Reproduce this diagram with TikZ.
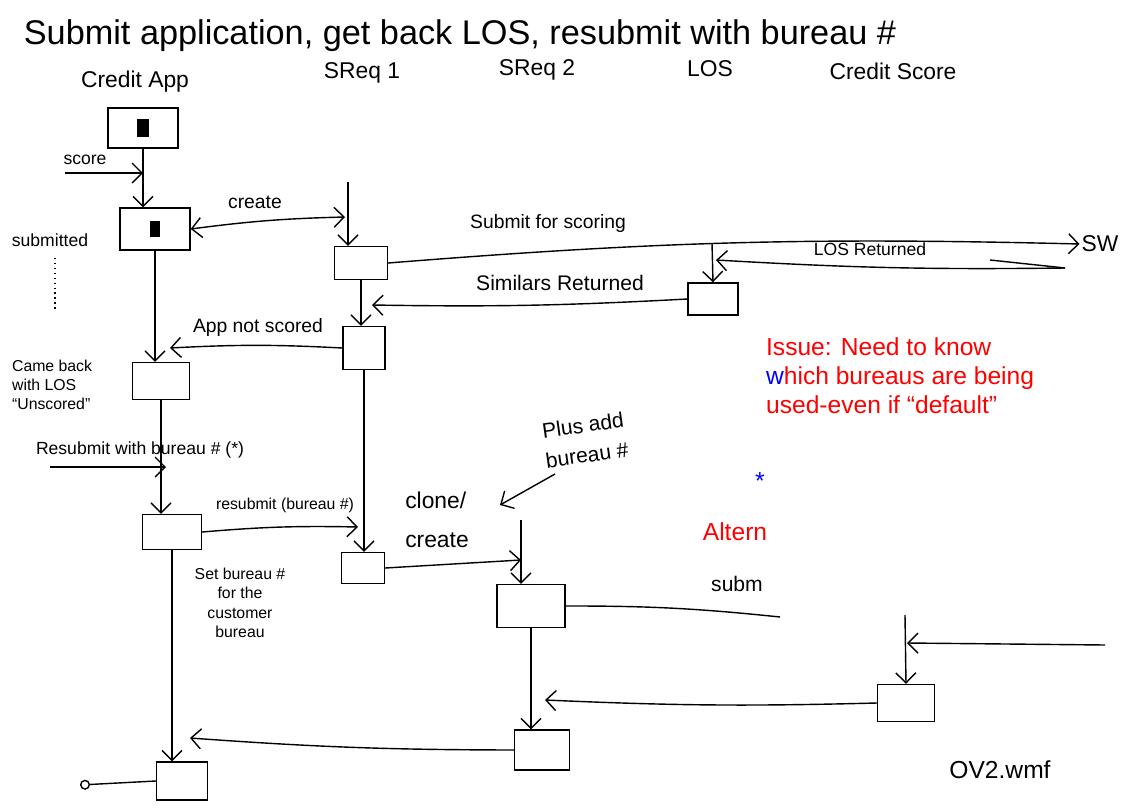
\documentclass[tikz,border=0pt]{standalone}
\usepackage{fontspec}
\setmainfont{Liberation Sans}
\usepackage{xcolor}
\usetikzlibrary{arrows.meta,positioning}

\begin{document}
\begin{tikzpicture}[
  x=0.02cm, y=-0.02cm,
  font=\fontsize{11}{13}\selectfont,
  box/.style={draw, thick, inner sep=0pt},
  arrow/.style={-{Straight Barb[length=2mm]}, thick},
  line/.style={thick},
  lbl/.style={inner sep=1pt, align=center}
]
\useasboundingbox (0,0) rectangle (1126,808);

% title and lifeline heads
\node[lbl, font=\fontsize{19.5}{22}\selectfont] (title) at (460,36) {Submit application, get back LOS, resubmit with bureau \#};
\node[lbl, font=\fontsize{13}{15}\selectfont] (hApp) at (135,82) {Credit App};
\node[lbl, font=\fontsize{13}{15}\selectfont] (hSreqA) at (362,73) {SReq 1};
\node[lbl, font=\fontsize{13}{15}\selectfont] (hSreqB) at (537,70) {SReq 2};
\node[lbl, font=\fontsize{13}{15}\selectfont] (hLos) at (710,69) {LOS};
\node[lbl, font=\fontsize{13}{15}\selectfont] (hScore) at (893,71) {Credit Score};

% boxes
\node[box, minimum width=1.4cm, minimum height=0.8cm] (appA) at (143,128) {};
\node[box, minimum width=1.4cm, minimum height=0.84cm] (appB) at (155,229) {};
\node[box, minimum width=1.14cm, minimum height=0.74cm] (appC) at (161,381) {};
\node[box, minimum width=1.18cm, minimum height=0.7cm] (appD) at (172,532) {};
\node[box, minimum width=1.02cm, minimum height=0.76cm] (appE) at (182,781) {};
\node[box, minimum width=1.06cm, minimum height=0.66cm] (sreqA) at (361,263) {};
\node[box, minimum width=0.84cm, minimum height=0.86cm] (sreqB) at (364,348) {};
\node[box, minimum width=0.86cm, minimum height=0.62cm] (sreqC) at (363,568) {};
\node[box, minimum width=1.36cm, minimum height=0.86cm] (sreqD) at (531,606) {};
\node[box, minimum width=1.1cm, minimum height=0.8cm] (sreqE) at (542,750) {};
\node[box, minimum width=1.0cm, minimum height=0.64cm] (losA) at (713,299) {};
\node[box, minimum width=1.14cm, minimum height=0.74cm] (losB) at (906,703) {};

% scribbles inside the first two boxes
\fill (appA.center) ++(-6,-9) rectangle ++(12,18);
\fill (appB.center) ++(-5,-8) rectangle ++(10,16);

% loose ends
\coordinate (scoreIn) at (65,173);
\coordinate (sreqTop) at (348,182);
\coordinate (createEnd) at (345,217);
\coordinate (losTop) at (712,243);
\coordinate (losRet) at (1065,268);
\coordinate (losRetEnd) at (716,260);
\coordinate (simEnd) at (372,305);
\coordinate (notScEnd) at (170,348);
\coordinate (resubIn) at (50,467);
\coordinate (resubEnd) at (166,467);
\coordinate (bureauEnd) at (358,527);
\coordinate (cloneEnd) at (521,560);
\coordinate (sreqBTop) at (521,520);
\coordinate (plusStart) at (555,474);
\coordinate (plusEnd) at (500,505);
\coordinate (fadeEnd) at (780,617);
\coordinate (scoreRet) at (1105,645);
\coordinate (scoreRetEnd) at (907,643);
\coordinate (losBTop) at (905,615);
\coordinate (altRetEnd) at (545,700);
\coordinate (appRetEnd) at (190,738);
\coordinate (appOut) at (80,785);

\node[lbl, font=\fontsize{13}{15}\selectfont] (sw) at (1100,244) {SW};

% connectors
\draw[arrow] (appA.south) -- (appA.south |- appB.north);
\draw[arrow] (scoreIn) -- (scoreIn -| appA.south);
\draw[{Straight Barb[length=2mm]}-{Straight Barb[length=2mm]}, thick] (appB.east) to[bend left=3] (createEnd);
\draw[arrow] (sreqTop) -- (sreqTop |- sreqA.north);
\draw[arrow] (sreqA.east) to[bend left=3] (sw.west);
\draw[arrow] (losRet) to[bend left=2] (losRetEnd);
\draw[line] (losRet) -- ++(-75,-8);
\draw[arrow] (losTop) -- (losA.north);
\draw[arrow] (losA.west) to[bend left=2] (simEnd);
\draw[arrow] (sreqA.south) -- (sreqA.south |- sreqB.north);
\draw[arrow] (sreqB.west) to[bend right=3] (notScEnd);
\draw[arrow] (appB.south) -- (appB.south |- appC.north);
\draw[arrow] (resubIn) -- (resubEnd);
\draw[arrow] (appC.south) -- (appC.south |- appD.north);
\draw[arrow] (appD.east) to[bend left=3] (bureauEnd);
\draw[arrow] (sreqB.south) -- (sreqB.south |- sreqC.north);
\draw[arrow] (sreqC.east) -- (cloneEnd);
\draw[arrow] (sreqBTop) -- (sreqBTop |- sreqD.north);
\draw[arrow] (plusStart) -- (plusEnd);
\draw[line] (sreqD.east) to[bend left=3] (fadeEnd);
\draw[arrow] (scoreRet) -- (scoreRetEnd);
\draw[arrow] (losBTop) -- (losB.north);
\draw[arrow] (losB.west) to[bend left=2] (altRetEnd);
\draw[arrow] (sreqD.south) -- (sreqD.south |- sreqE.north);
\draw[arrow] (sreqE.west) to[bend left=2] (appRetEnd);
\draw[arrow] (appD.south) -- (appD.south |- appE.north);
\draw[-{Circle[open,length=2mm]}, thick] (appE.west) -- (appOut);
\draw[thick, dotted] (55,258) -- (55,312);

% labels
\node[lbl, font=\fontsize{10}{12}\selectfont] (lScore) at (85,160) {score};
\node[lbl, font=\fontsize{10}{12}\selectfont] (lSubm) at (50,240) {submitted};
\node[lbl] (lCreate) at (255,202) {create};
\node[lbl] (lSubmit) at (548,224) {Submit for scoring};
\node[lbl, font=\fontsize{10}{12}\selectfont] (lLosRet) at (870,249) {LOS Returned};
\node[lbl, font=\fontsize{12}{14}\selectfont] (lSim) at (560,283) {Similars Returned};
\node[lbl] (lNotSc) at (258,328) {App not scored};
\node[lbl, align=left, anchor=west, font=\fontsize{9}{11}\selectfont] (lCame) at (10,385) {Came back\\with LOS\\``Unscored''};
\node[lbl, font=\fontsize{10}{12}\selectfont] (lResub) at (140,450) {Resubmit with bureau \# (*)};
\node[lbl, font=\fontsize{9}{11}\selectfont] (lBureau) at (285,505) {resubmit (bureau \#)};
\node[lbl, font=\fontsize{9}{11}\selectfont] (lSet) at (240,603) {Set bureau \#\\for the\\customer\\bureau};
\node[lbl, align=left, font=\fontsize{13}{22}\selectfont] (lClone) at (437,520) {clone/\\create};
\node[lbl, rotate=8, font=\fontsize{12}{17}\selectfont] (lPlus) at (585,440) {Plus add\\bureau \#};
\node[lbl, text=blue, font=\fontsize{14}{16}\selectfont] (lStar) at (760,481) {*};
\node[lbl, text=red, font=\fontsize{14}{16}\selectfont] (lAlt) at (735,532) {Altern};
\node[lbl, font=\fontsize{12}{14}\selectfont] (lSubmB) at (737,584) {subm};
\node[lbl, text=red, align=left, anchor=west, font=\fontsize{14}{16.5}\selectfont] (lIssue) at (764,376) {Issue: Need to know\\{\color{blue}w}hich bureaus are being\\used-even if ``default''};
\node[lbl, font=\fontsize{14}{16}\selectfont] (lFile) at (1000,770) {OV2.wmf};
\end{tikzpicture}
\end{document}
